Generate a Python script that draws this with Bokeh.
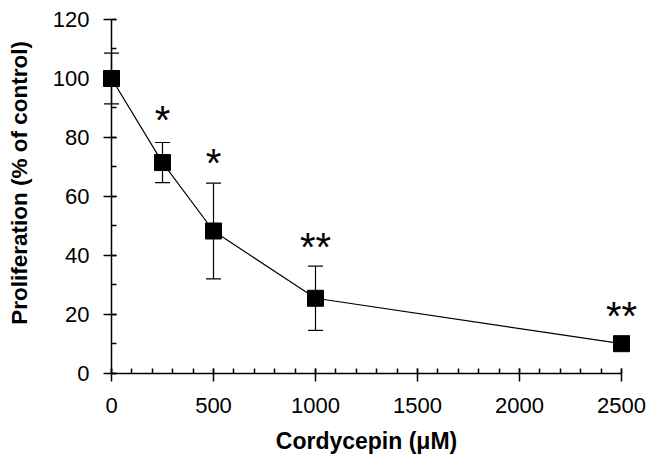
import math
from bokeh.plotting import figure
from bokeh.models import (ColumnDataSource, Range1d, SingleIntervalTicker, Whisker,
                          TeeHead, Label)
from bokeh.core.properties import value
from bokeh.embed import file_html
from bokeh.resources import INLINE

# data
dose = [0, 250, 500, 1000, 2500]
mean = [100, 71.5, 48.3, 25.5, 10.1]
err = [8.6, 6.8, 16.2, 10.9, 0]
sig_labels = ["", "*", "*", "**", "**"]
sig_y = [0, 87, 72.5, 44, 20.5]
x_ticks_interval = 500
y_ticks_interval = 20
x_bounds = (0, 2500)
y_bounds = (0, 120)

upper = [m + e for m, e in zip(mean, err)]
lower = [m - e for m, e in zip(mean, err)]
src = ColumnDataSource(dict(x=dose, y=mean, upper=upper, lower=lower))
sig_src = ColumnDataSource(dict(x=dose[1:], y=sig_y[1:], t=sig_labels[1:]))

FONT = "Liberation Sans"

p = figure(width=646, height=465, x_range=Range1d(-544.1, 2622.5),
           y_range=Range1d(-31.19, 126.44),
           output_backend="svg", toolbar_location=None,
           min_border_left=0, min_border_right=0, min_border_top=0, min_border_bottom=0)
p.outline_line_color = None
p.xgrid.visible = False
p.ygrid.visible = False
p.background_fill_color = "white"
p.border_fill_color = "white"

# axes
p.xaxis.ticker = SingleIntervalTicker(interval=x_ticks_interval, num_minor_ticks=5)
p.yaxis.ticker = SingleIntervalTicker(interval=y_ticks_interval, num_minor_ticks=2)
p.xaxis.bounds = x_bounds
p.yaxis.bounds = y_bounds
p.yaxis.fixed_location = 0
p.xaxis.fixed_location = 0

for ax in (p.xaxis, p.yaxis):
    ax.axis_line_color = "black"
    ax.axis_line_width = 1.5
    ax.major_tick_line_color = "black"
    ax.major_tick_line_width = 1.5
    ax.minor_tick_line_color = "black"
    ax.minor_tick_line_width = 1.5
    ax.major_label_text_font = FONT
    ax.major_label_text_font_size = "22px"
    ax.major_label_text_color = "black"

p.xaxis.major_tick_out = 8
p.xaxis.major_tick_in = 5
p.xaxis.minor_tick_out = 0
p.xaxis.minor_tick_in = 5
p.xaxis.major_label_standoff = 17

p.yaxis.major_tick_out = 8
p.yaxis.major_tick_in = 5
p.yaxis.minor_tick_out = 0
p.yaxis.minor_tick_in = 5
p.yaxis.major_label_standoff = 14

p.add_layout(Label(x=-451, y=64.6, text="Proliferation (% of control)", angle=math.pi / 2,
                   text_align="center", text_baseline="middle",
                   text_font=FONT, text_font_style="bold", text_font_size="22.5px",
                   text_color="black"))
p.add_layout(Label(x=1250, y=-23.0, text="Cordycepin (\u03bcM)",
                   text_align="center", text_baseline="middle",
                   text_font=FONT, text_font_style="bold", text_font_size="23px",
                   text_color="black"))

# data line and markers
p.line("x", "y", source=src, line_color="black", line_width=1.2)
wh = Whisker(source=src, base="x", upper="upper", lower="lower", line_color="black",
             line_width=1.2,
             upper_head=TeeHead(size=15, line_color="black", line_width=1.2),
             lower_head=TeeHead(size=15, line_color="black", line_width=1.2))
p.add_layout(wh)
p.scatter("x", "y", source=src, marker="square", size=16, fill_color="black",
          line_color="black")

p.text("x", "y", text="t", source=sig_src, text_font=value(FONT), text_font_size="40px",
       text_align="center", text_baseline="middle", text_color="black", y_offset=3)

open("out.html", "w").write(file_html(p, INLINE))
